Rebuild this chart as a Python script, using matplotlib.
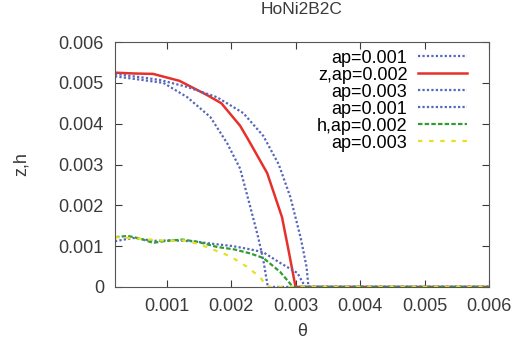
import numpy as np
import matplotlib.pyplot as plt

plt.rcParams['font.family'] = ['Liberation Sans', 'DejaVu Sans']

# z curves (theta, z)
z1_t = [0.0002, 0.00063, 0.00095, 0.00132, 0.00168, 0.00194, 0.00214, 0.0023, 0.00242, 0.0025, 0.00257, 0.006]
z1_v = [0.00516, 0.00507, 0.00500, 0.00465, 0.00416, 0.00352, 0.00290, 0.00195, 0.00122, 0.00066, 0.0, 0.0]
z2_t = [0.0002, 0.0005, 0.00079, 0.0012, 0.00163, 0.00185, 0.00214, 0.00227, 0.00256, 0.00279, 0.00289, 0.0030, 0.006]
z2_v = [0.00525, 0.00523, 0.00522, 0.00505, 0.00470, 0.00450, 0.00395, 0.0036, 0.00279, 0.00171, 0.00091, 0.0, 0.0]
z3_t = [0.0002, 0.00068, 0.0009, 0.00132, 0.00178, 0.00219, 0.0025, 0.00274, 0.00292, 0.00308, 0.00317, 0.0032, 0.006]
z3_v = [0.00522, 0.00512, 0.00507, 0.0049, 0.00465, 0.00426, 0.0037, 0.0030, 0.0022, 0.0012, 0.0005, 0.0, 0.0]

# h curves (theta, h)
h1_t = [0.0002, 0.00048, 0.0008, 0.0011, 0.0014, 0.00175, 0.00203, 0.0023, 0.0025, 0.00276, 0.00303, 0.00315, 0.006]
h1_v = [0.00112, 0.0012, 0.00113, 0.00114, 0.00112, 0.00105, 0.00100, 0.00092, 0.00085, 0.00059, 0.00034, 0.0, 0.0]
h2_t = [0.0002, 0.0004, 0.0006, 0.00079, 0.001, 0.00125, 0.0015, 0.00178, 0.00205, 0.0023, 0.0025, 0.00276, 0.00296, 0.006]
h2_v = [0.00122, 0.00125, 0.00118, 0.00108, 0.00113, 0.00116, 0.0011, 0.00098, 0.00092, 0.00082, 0.00071, 0.00037, 0.0, 0.0]
h3_t = [0.0002, 0.0006, 0.001, 0.00127, 0.0015, 0.00178, 0.00199, 0.00225, 0.00245, 0.00256, 0.006]
h3_v = [0.00122, 0.00118, 0.00113, 0.00114, 0.00105, 0.00088, 0.00075, 0.00049, 0.00024, 0.0, 0.0]

labels = ['ap=0.001', 'z,ap=0.002', 'ap=0.003', 'ap=0.001', 'h,ap=0.002', 'ap=0.003']
xticks = [0.001, 0.002, 0.003, 0.004, 0.005, 0.006]
yticks = [0, 0.001, 0.002, 0.003, 0.004, 0.005, 0.006]

blue = '#5566bb'
txt = '#3a3a3a'
fig = plt.figure(figsize=(5.18, 3.42), dpi=100)
ax = fig.add_axes([0.222, 0.161, 0.722, 0.716])

ax.plot(z1_t, z1_v, color=blue, ls=(0, (1, 1)), lw=1.6, label=labels[0])
ax.plot(z2_t, z2_v, color='#e8302a', ls='-', lw=1.8, label=labels[1])
ax.plot(z3_t, z3_v, color=blue, ls=(0, (1, 1)), lw=1.6, label=labels[2])
ax.plot(h1_t, h1_v, color=blue, ls=(0, (1, 1)), lw=1.6, label=labels[3])
ax.plot(h2_t, h2_v, color='#2e9e2e', ls=(0, (2, 1)), lw=1.6, label=labels[4])
ax.plot(h3_t, h3_v, color='#e6e020', ls=(0, (2, 3)), lw=1.6, label=labels[5])

ax.set_xlim(0.0002, 0.006)
ax.set_ylim(0, 0.006)
ax.set_xticks(xticks)
ax.set_xticklabels([f'{v:g}' for v in xticks])
ax.set_yticks(yticks)
ax.set_yticklabels(['0'] + [f'{v:.3f}' for v in yticks[1:]])
ax.tick_params(direction='in', top=True, right=True, length=5, labelsize=13, colors=txt, pad=8)
for s in ax.spines.values():
    s.set_color('#555555')

ax.set_title('HoNi2B2C', fontsize=12.5, color=txt, pad=20)
ax.set_xlabel('θ', fontsize=13, color=txt, labelpad=6)
ax.set_ylabel('z,h', fontsize=13, color=txt, labelpad=21)

ax.legend(loc='upper right', bbox_to_anchor=(0.975, 1.02), frameon=False, markerfirst=False,
          fontsize=13, handlelength=2.7, labelspacing=0.0, handletextpad=0.6, borderaxespad=0.3)

fig.savefig('out.png', dpi=100)
